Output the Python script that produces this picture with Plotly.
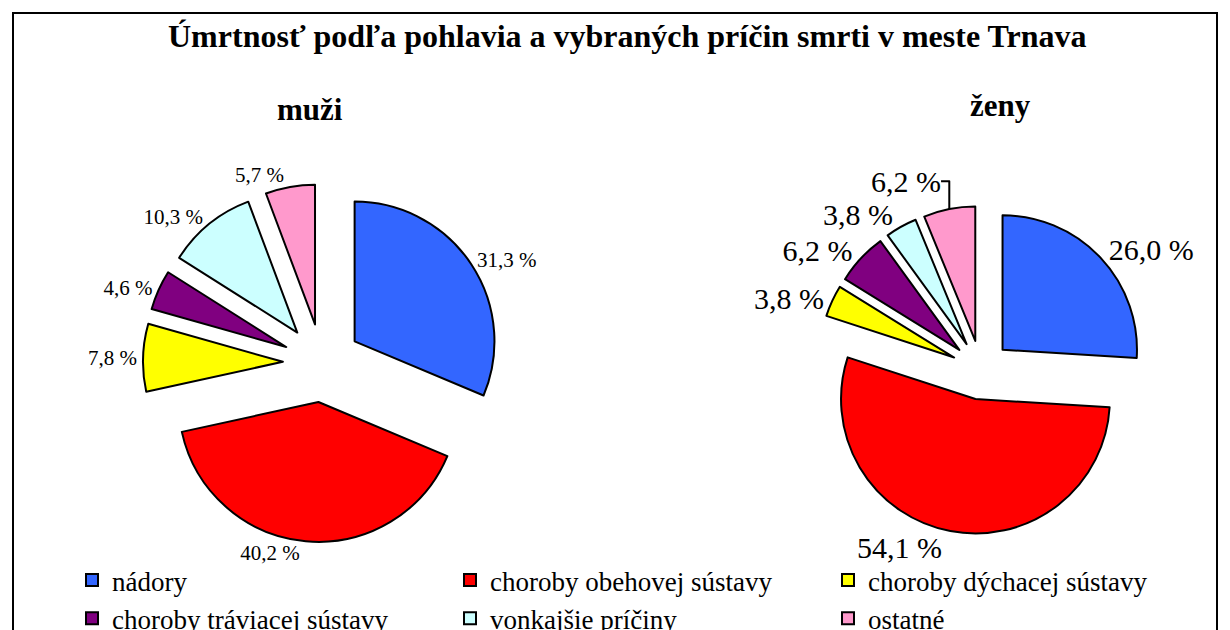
import plotly.graph_objects as go

categories = ["nádory", "choroby obehovej sústavy", "choroby dýchacej sústavy",
              "choroby tráviacej sústavy", "vonkajšie príčiny", "ostatné"]
muzi = [31.3, 40.2, 7.8, 4.6, 10.3, 5.7]
zeny = [26.0, 54.1, 3.8, 6.2, 3.8, 6.2]
colors = ["#3366FF", "#FF0000", "#FFFF00", "#800080", "#CCFFFF", "#FF99CC"]

title = "Úmrtnosť podľa pohlavia a vybraných príčin smrti v meste Trnava"
sub_m = "muži"
sub_z = "ženy"

FONT = "Liberation Serif"
W, H = 1230, 630
OFF = 8  # page body margin offset


def px(x):
    return (x - OFF) / W


def py(y):
    return 1 - (y - OFF) / H


def fmt(v):
    return f"{v:.1f} %".replace(".", ",")


fig = go.Figure()
fig.add_trace(go.Pie(
    labels=categories, values=muzi, text=[fmt(v) for v in muzi],
    textinfo="text", textposition="outside",
    outsidetextfont=dict(family=FONT, size=21, color="black"),
    sort=False, direction="clockwise", rotation=0,
    pull=[0.28] * len(muzi),
    marker=dict(colors=colors, line=dict(color="black", width=2)),
    domain=dict(x=[px(143), px(501)], y=[py(542), py(184)]),
    hoverinfo="label+value", name=sub_m,
))
fig.add_trace(go.Pie(
    labels=categories, values=zeny, text=[fmt(v) for v in zeny],
    textinfo="text", textposition="outside",
    outsidetextfont=dict(family=FONT, size=30, color="black"),
    sort=False, direction="clockwise", rotation=0,
    pull=[0.22] * len(zeny),
    marker=dict(colors=colors, line=dict(color="black", width=2)),
    domain=dict(x=[px(817), px(1145)], y=[py(534), py(206)]),
    hoverinfo="label+value", name=sub_z, showlegend=False,
))

fig.update_layout(
    width=W, height=H,
    margin=dict(l=0, r=0, t=0, b=0, autoexpand=False),
    paper_bgcolor="white", plot_bgcolor="white",
    font=dict(family=FONT, color="black"),
    showlegend=True,
    legend=dict(
        orientation="h", x=px(72), xanchor="left",
        y=py(556), yanchor="top",
        font=dict(family=FONT, size=27, color="black"),
        entrywidth=333, entrywidthmode="pixels",
        itemwidth=30, traceorder="normal",
        bgcolor="rgba(0,0,0,0)",
    ),
    annotations=[
        dict(text=f"<b>{title}</b>", x=px(627.5), y=py(36), xref="paper", yref="paper",
             showarrow=False, font=dict(family=FONT, size=32, color="black"),
             xanchor="center", yanchor="middle"),
        dict(text=f"<b>{sub_m}</b>", x=px(310), y=py(110), xref="paper", yref="paper",
             showarrow=False, font=dict(family=FONT, size=31, color="black"),
             xanchor="center", yanchor="middle"),
        dict(text=f"<b>{sub_z}</b>", x=px(1000), y=py(105), xref="paper", yref="paper",
             showarrow=False, font=dict(family=FONT, size=31, color="black"),
             xanchor="center", yanchor="middle"),
    ],
    shapes=[
        dict(type="rect", xref="paper", yref="paper",
             x0=px(13), x1=px(1217), y0=-0.1, y1=py(13),
             line=dict(color="black", width=2), fillcolor="rgba(0,0,0,0)", layer="below"),
    ],
)

fig.write_html("out.html")
